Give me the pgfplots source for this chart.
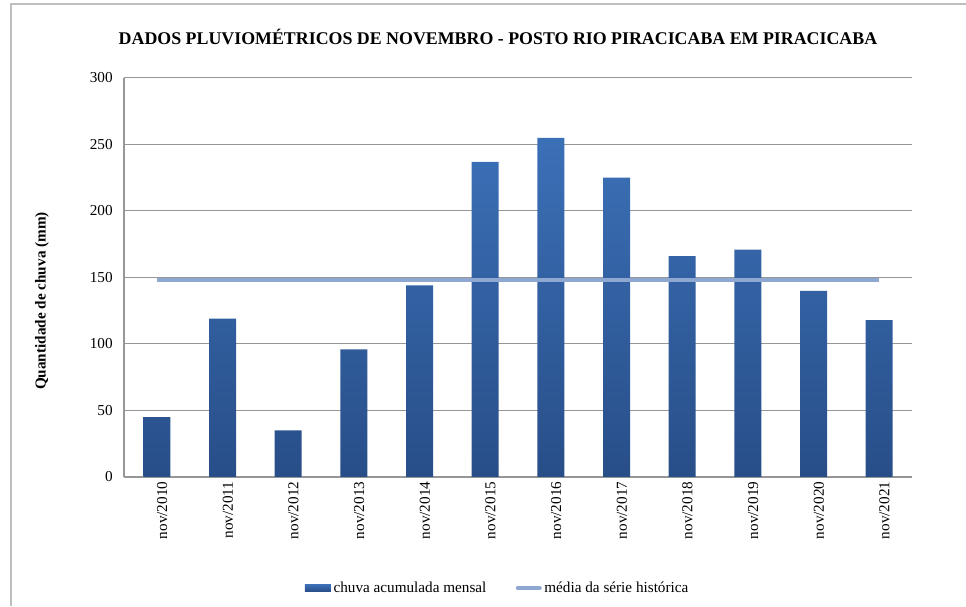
\documentclass[border=0pt]{standalone}
\usepackage{pgfplots}
\pgfplotsset{compat=1.18}
\usepackage{fontspec}
\setmainfont{Liberation Serif}
\definecolor{bartop}{RGB}{59,112,183}
\definecolor{barbot}{RGB}{40,78,136}
\definecolor{meanc}{RGB}{142,168,210}
\definecolor{gridc}{RGB}{150,150,150}
\definecolor{framec}{RGB}{190,190,190}
\pgfplotstableread{
x y
0 45
1 119
2 35
3 96
4 144
5 237
6 255
7 225
8 166
9 171
10 140
11 118
}\rain
\pgfplotstableread{
x y
0 148
11 148
}\mean
\begin{document}
\begin{tikzpicture}[x=1pt,y=1pt]
\useasboundingbox (0,0) rectangle (724.5,454.5);
\draw[color=framec, line width=1.5pt] (8.25,0) -- (8.25,451.5) -- (724.5,451.5);
\node[font=\bfseries\fontsize{13.4}{15}\selectfont] at (373.5,426.75) {DADOS PLUVIOMÉTRICOS DE NOVEMBRO - POSTO RIO PIRACICABA EM PIRACICABA};
\node[rotate=90, font=\bfseries\fontsize{11.4}{13}\selectfont] at (31.5,228.75) {Quantidade de chuva (mm)};
\begin{axis}[
  at={(93pt,96.75pt)}, anchor=south west, scale only axis,
  width=591pt, height=299.25pt,
  xmin=-0.5, xmax=11.5, ymin=0, ymax=300,
  ytick={0,50,...,300},
  xtick={0,...,11},
  xticklabels={nov/2010,nov/2011,nov/2012,nov/2013,nov/2014,nov/2015,nov/2016,nov/2017,nov/2018,nov/2019,nov/2020,nov/2021},
  axis x line*=bottom, axis y line*=left,
  axis line style={draw=gridc, line width=0.9pt, -},
  major tick length=0pt,
  ymajorgrids, grid style={draw=gridc, line width=0.75pt},
  tick label style={font=\fontsize{11.4}{13}\selectfont},
  /pgf/number format/assume math mode=true,
  yticklabel style={xshift=-5pt},
  xticklabel style={rotate=90, anchor=east, yshift=-4pt},
  legend style={at={(0.4746,-0.278)}, anchor=center, draw=none, fill=none,
    font=\fontsize{11.4}{13}\selectfont, inner sep=0pt,
    /tikz/every even column/.append style={column sep=20pt}},
  legend columns=2,
  legend cell align=left,
]
\addplot[ybar, bar width=20.25pt, draw=none, top color=bartop, bottom color=barbot,
  legend image code/.code={\fill[top color=bartop, bottom color=barbot, draw=none] (0pt,-2.6pt) rectangle (19.5pt,2.6pt);}]
  table[x=x,y=y]{\rain};
\addlegendentry{chuva acumulada mensal}
\addplot[meanc, line width=3pt, no marks,
  legend image code/.code={\draw[meanc, line width=3pt, line cap=round] (1.5pt,0pt) -- (18pt,0pt);}]
  table[x=x,y=y]{\mean};
\addlegendentry{média da série histórica}
\end{axis}
\end{tikzpicture}
\end{document}
